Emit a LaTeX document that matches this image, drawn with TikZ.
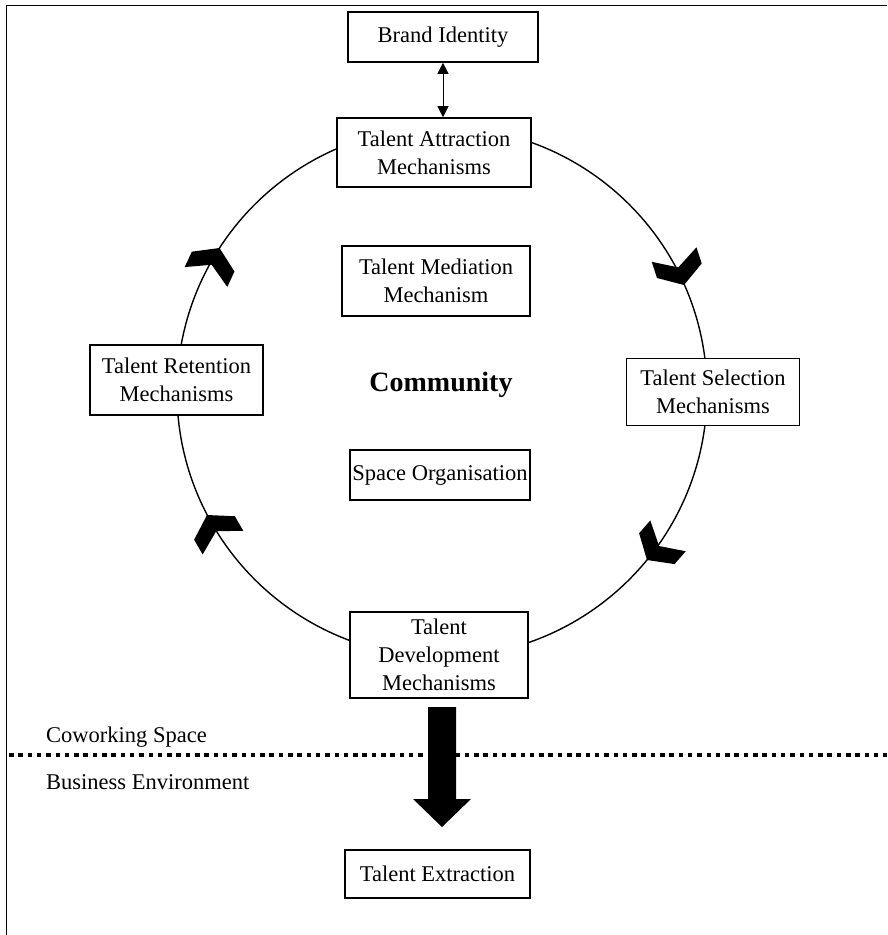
\documentclass[tikz,border=0pt]{standalone}
\usepackage{fontspec}
\setmainfont{Liberation Serif}
\usetikzlibrary{arrows.meta}
\begin{document}
\begin{tikzpicture}[x=1pt,y=-1pt,
  box/.style={draw, line width=1.6pt, fill=white, align=center, inner sep=0pt,
    font=\fontsize{22.5}{28}\selectfont},
  lbl/.style={font=\fontsize{22.5}{28}\selectfont, inner sep=0pt, anchor=west},
  chevron/.pic={\fill (0,0) -- (-15,23.5) -- (-32,23.5) -- (-18.5,0) -- (-32,-23.5) -- (-15,-23.5) -- cycle;}]
\useasboundingbox (0,0) rectangle (887,935);
% frame
\draw[line width=1.6pt] (6.5,935) -- (6.5,5.5) -- (887,5.5);
% cycle circle
\coordinate (cc) at (442,392);
\draw[line width=1.4pt] (cc) circle [radius=265];
% chevrons
\pic[rotate=65] at (219.5,248) {chevron};
\pic[rotate=-72] at (684,285) {chevron};
\pic[rotate=-131] at (647,560) {chevron};
\pic[rotate=120] at (207,515) {chevron};
% boxes
\node[box, minimum width=190pt, minimum height=50pt] (brand) at (443,37) {Brand Identity};
\node[box, minimum width=194pt, minimum height=69pt] (attr) at (434,152.5) {Talent Attraction\\Mechanisms};
\node[box, minimum width=188pt, minimum height=70pt] (med) at (436,281) {Talent Mediation\\Mechanism};
\node[box, minimum width=173pt, minimum height=70pt] (ret) at (176.5,380) {Talent Retention\\Mechanisms};
\node[box, minimum width=173pt, minimum height=67pt] (sel) at (713,392) {Talent Selection\\Mechanisms};
\node[font=\fontsize{28}{32}\selectfont\bfseries, inner sep=0pt] (comm) at (441,385) {Community};
\node[box, minimum width=180pt, minimum height=50pt] (space) at (440,475) {Space Organisation};
\node[box, minimum width=178pt, minimum height=86pt] (dev) at (439,655) {Talent\\Development\\Mechanisms};
\node[box, minimum width=185pt, minimum height=48pt] (extr) at (437.5,874) {Talent Extraction};
% labels
\node[lbl] (cow) at (46,737) {Coworking Space};
\node[lbl] (bus) at (46,782) {Business Environment};
% brand <-> attraction
\draw[{Triangle[length=11pt,width=11pt]}-{Triangle[length=11pt,width=11pt]}, line width=0.8pt]
  (brand.south) -- (brand.south |- attr.north);
% boundary dotted line
\coordinate (dl) at (9,755);
\coordinate (dr) at (887,755);
\draw[line width=4pt, dash pattern=on 4.5pt off 4.8pt] (dl) -- (dr);
% big block arrow dev -> extraction
\coordinate (bt) at (442,707);
\coordinate (btip) at (442,827);
\fill (bt) ++(-14,0) -- ++(28,0) -- ++(0,92) -- ++(15,0) -- (btip) -- ++(-29,-28) -- ++(15,0) -- cycle;
\end{tikzpicture}
\end{document}
